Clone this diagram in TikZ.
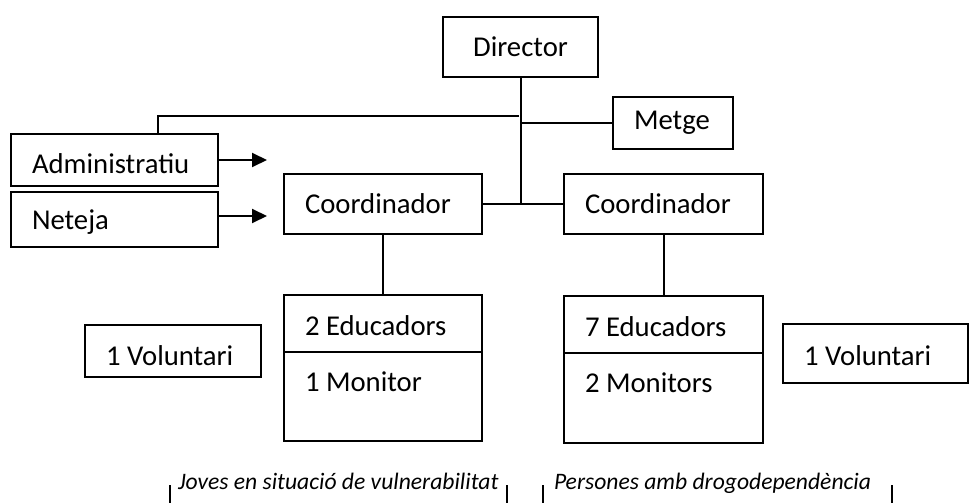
\documentclass[tikz,border=0pt]{standalone}
\usepackage{fontspec}
\setmainfont{Carlito}
\usetikzlibrary{arrows.meta}
\begin{document}
\begin{tikzpicture}[x=1pt,y=-1pt,line width=2pt,
  box/.style={draw,inner xsep=21pt,inner ysep=0pt,align=flush left,anchor=north west,font=\fontsize{28.7}{34}\selectfont},
  low/.style={text height=#1,text depth=0pt},
  txt/.style={anchor=west,inner sep=0pt,font=\fontsize{28.7}{34}\selectfont},
  group/.style={anchor=base west,inner sep=0pt,font=\fontsize{23.6}{28}\selectfont\itshape},
  tip/.style={-{Triangle[length=15pt,width=14pt]}}]
\useasboundingbox (0,0) rectangle (969,503);
\node[box,align=center,text width=113,minimum height=60] (dir) at (442,16) {Director};
\node[box,text width=78,minimum height=52] (metge) at (612,96) {Metge};
\node[box,low=26.4pt,text width=165,minimum height=52] (admin) at (10,133) {Administratiu};
\node[box,low=20.4pt,text width=165,minimum height=55] (neteja) at (10,191) {Neteja};
\node[box,text width=156,minimum height=60] (coordA) at (283,173) {Coordinador};
\node[box,text width=157,minimum height=60] (coordB) at (563,173) {Coordinador};
\node[box,low=23.4pt,text width=156,minimum height=57] (eduA) at (283,294) {2 Educadors};
\node[box,text width=156,minimum height=89] (monA) at (283,351) {};
\node[box,low=24.4pt,text width=157,minimum height=57] (eduB) at (563,295) {7 Educadors};
\node[box,text width=157,minimum height=90] (monB) at (563,352) {};
\node[box,low=28.4pt,text width=134,minimum height=52] (volA) at (84,324) {1 Voluntari};
\node[box,low=24.4pt,text width=143,minimum height=59] (volB) at (782,323) {1 Voluntari};
\node[txt] at ([xshift=21pt,yshift=-30.5pt]monA.north west) {1 Monitor};
\node[txt] at ([xshift=21pt,yshift=-31pt]monB.north west) {2 Monitors};
\coordinate (junAdm) at (519,116);
\draw (dir.south) -- (dir.south |- coordA.east);
\draw (coordA.east) -- (coordB.west);
\draw (junAdm) -| ([xshift=43.5pt]admin.north);
\draw (dir.south |- metge.west) -- (metge.west);
\draw[tip] (admin.east) -- ++(48,0);
\draw[tip] ([yshift=3.5pt]neteja.east) -- ++(48,0);
\draw (coordA.south) -- (eduA.north);
\draw (coordB.south) -- (eduB.north);
\node[group] (joves) at (177,489) {Joves en situació de vulnerabilitat};
\node[group] (persones) at (553,489) {Persones amb drogodependència};
\draw (170,485) -- (170,503);
\draw (507,485) -- (507,503);
\draw (543,485) -- (543,503);
\draw (892,485) -- (892,503);
\end{tikzpicture}
\end{document}
